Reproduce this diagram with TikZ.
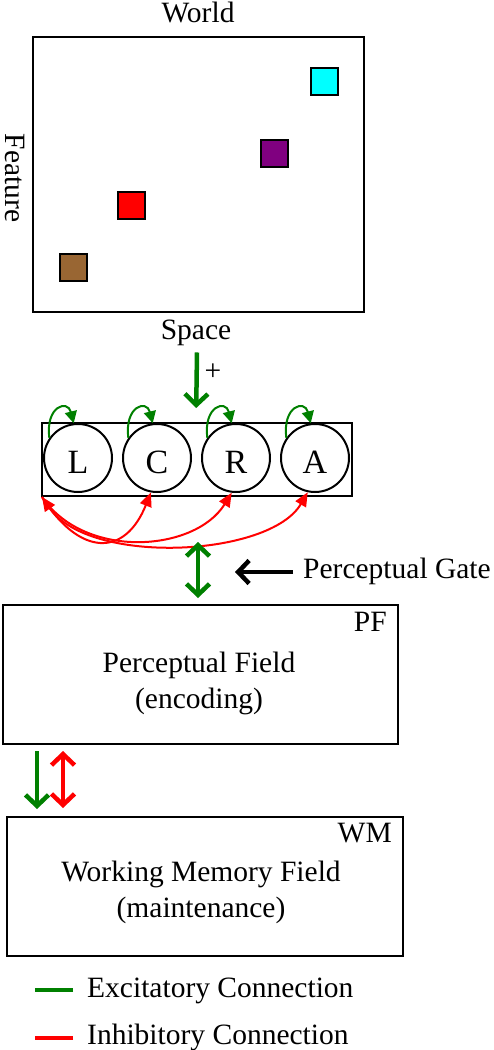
\documentclass[tikz,border=0pt]{standalone}
\usepackage{fontspec}
\setmainfont{Liberation Serif}
\usetikzlibrary{arrows.meta}
\definecolor{exgreen}{RGB}{0,128,0}
\definecolor{inred}{RGB}{255,0,0}
\definecolor{brownsq}{RGB}{153,102,51}
\definecolor{purplesq}{RGB}{128,0,128}
\definecolor{cyansq}{RGB}{0,255,255}
\begin{document}
\begin{tikzpicture}[x=1pt, y=-1pt,
    font=\fontsize{29.5}{36}\selectfont,
    lbl/.style={inner sep=0pt},
    field/.style={draw, line width=2pt, inner sep=0pt},
    item/.style={draw, line width=2pt, minimum size=27pt, inner sep=0pt},
    unit/.style={draw, circle, line width=2pt, minimum size=68pt, inner sep=0pt,
      font=\fontsize{34}{40}\selectfont, text height=30pt, text depth=0pt},
    barb/.tip={Straight Barb[length=11pt, width=23pt]},
    excite/.style={exgreen, line width=4.5pt, -barb},
    excite2/.style={exgreen, line width=4.5pt, barb-barb},
    inhib2/.style={inred, line width=4.5pt, barb-barb},
    gatearrow/.style={black, line width=4.5pt, -barb},
    selfloop/.style={exgreen, line width=2pt, -{Triangle[length=12pt, width=12pt]}},
    inhib/.style={inred, line width=2pt, -{Triangle[length=14pt, width=12pt]}},
  ]
  \useasboundingbox (0,0) rectangle (494,1050);

  % world
  \node[field, minimum width=331pt, minimum height=275pt] (world) at (198.5,174.5) {};
  \node[lbl, anchor=base] (worldlabel) at (198,22) {World};
  \node[lbl, anchor=base] (space) at (196,339) {Space};
  \node[lbl, rotate=-90] (feature) at (15,178) {Feature};
  \foreach \c/\x/\y in {cyansq/324.5/81.5, purplesq/274.5/153, red/131.5/205.5, brownsq/73.5/267}
    \node[item, fill=\c] (sq\c) at (\x,\y) {};

  % units
  \node[field, minimum width=310pt, minimum height=73pt] (lcra) at (197,459.5) {};
  \foreach \n/\x in {L/78, C/157, R/236, A/315} {
    \node[unit] (\n) at (\x,458) {\n};
    \draw[selfloop] (\n.145) .. controls +(-4,-32) and +(-6,-24) .. (\n.97);
  }
  \draw[excite, shorten >=14pt] (space.south) ++(1,7) -- (space.south |- lcra.north);
  \node[lbl] (plus) at (213,372) {+};

  \draw[inhib] ([xshift=1pt]lcra.south west) .. controls (80,557) and (125,557) .. (C.260);
  \draw[inhib] ([xshift=1pt]lcra.south west) .. controls (85,560) and (195,552) .. (R.263);
  \draw[inhib, {Triangle[length=14pt, width=12pt]}-{Triangle[length=14pt, width=12pt]}]
    ([xshift=1pt]lcra.south west) .. controls (90,566) and (270,557) .. (A.258);

  % fields
  \node[field, minimum width=395pt, minimum height=139pt] (pf) at (200.5,674.5) {};
  \node[lbl, anchor=base east] (pftag) at (387,631) {PF};
  \node[lbl, align=center] (pftext) at (199,683) {Perceptual Field\\(encoding)};

  \node[field, minimum width=396pt, minimum height=139pt] (wm) at (205,886.5) {};
  \node[lbl, anchor=base east] (wmtag) at (392,842) {WM};
  \node[lbl, align=center] (wmtext) at (201,892) {Working Memory Field\\(maintenance)};

  \draw[excite2] (lcra.south) ++(1,45) -- ++(0,56);
  \node[lbl, anchor=base west] (gate) at (303,578) {Perceptual Gate};
  \draw[gatearrow] ([xshift=-10pt, yshift=6pt]gate.base west) -- ++(-58,0);

  \draw[excite, shorten <=6pt, shorten >=7pt] ([xshift=35pt]pf.south west) -- ([xshift=31pt]wm.north west);
  \draw[inhib2, shorten <=6pt, shorten >=8pt] ([xshift=61pt]pf.south west) -- ([xshift=57pt]wm.north west);

  % legend
  \node[lbl, anchor=base west] (exlegend) at (87,997) {Excitatory Connection};
  \node[lbl, anchor=base west] (inlegend) at (87,1044) {Inhibitory Connection};
  \draw[exgreen, line width=4pt] ([xshift=-14pt, yshift=7pt]exlegend.base west) -- ++(-38,0);
  \draw[inred, line width=4pt] ([xshift=-14pt, yshift=6pt]inlegend.base west) -- ++(-38,0);
\end{tikzpicture}
\end{document}
